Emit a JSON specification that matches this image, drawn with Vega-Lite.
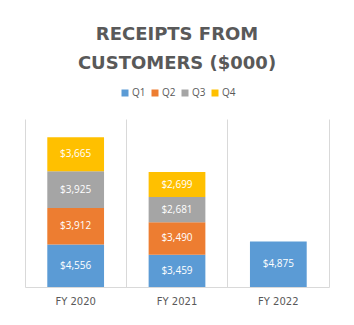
{
  "$schema": "https://vega.github.io/schema/vega-lite/v6.json",
  "width": 304,
  "height": 168,
  "autosize": {"type": "none"},
  "padding": {"left": 25, "top": 119, "right": 25, "bottom": 38},
  "background": "white",
  "title": {
    "text": ["RECEIPTS FROM", "CUSTOMERS ($000)"],
    "anchor": "middle",
    "font": "DejaVu Sans",
    "fontSize": 18,
    "fontWeight": "bold",
    "color": "#595959",
    "lineHeight": 29,
    "offset": 15
  },
  "data": {
    "values": [
      {"year": "FY 2020", "quarter": "Q1", "value": 4556},
      {"year": "FY 2020", "quarter": "Q2", "value": 3912},
      {"year": "FY 2020", "quarter": "Q3", "value": 3925},
      {"year": "FY 2020", "quarter": "Q4", "value": 3665},
      {"year": "FY 2021", "quarter": "Q1", "value": 3459},
      {"year": "FY 2021", "quarter": "Q2", "value": 3490},
      {"year": "FY 2021", "quarter": "Q3", "value": 2681},
      {"year": "FY 2021", "quarter": "Q4", "value": 2699},
      {"year": "FY 2022", "quarter": "Q1", "value": 4875}
    ]
  },
  "encoding": {
    "x": {
      "field": "year",
      "type": "nominal",
      "scale": {"paddingInner": 0, "paddingOuter": 0},
      "axis": {
        "title": null,
        "labelAngle": 0,
        "labelFont": "DejaVu Sans",
        "labelFontSize": 10,
        "labelColor": "#595959",
        "labelPadding": 9,
        "ticks": false,
        "domainColor": "#d9d9d9",
        "grid": true,
        "gridColor": "#d9d9d9",
        "bandPosition": 0
      }
    },
    "y": {
      "field": "value",
      "type": "quantitative",
      "stack": "zero",
      "scale": {"domain": [0, 18000], "nice": false},
      "axis": {
        "orient": "right",
        "title": null,
        "labels": false,
        "ticks": false,
        "grid": false,
        "domain": true,
        "domainColor": "#d9d9d9"
      }
    },
    "order": {"field": "quarter", "type": "nominal", "sort": "ascending"}
  },
  "layer": [
    {
      "mark": {"type": "bar", "width": {"band": 0.56}},
      "encoding": {
        "color": {
          "field": "quarter",
          "type": "nominal",
          "scale": {
            "domain": ["Q1", "Q2", "Q3", "Q4"],
            "range": ["#5B9BD5", "#ED7D31", "#A5A5A5", "#FFC000"]
          },
          "legend": {
            "title": null,
            "orient": "none",
            "direction": "horizontal",
            "legendX": 95,
            "legendY": -31,
            "symbolType": "square",
            "symbolSize": 49,
            "symbolStrokeWidth": 0,
            "labelFont": "Open Sans",
            "labelFontSize": 10,
            "labelColor": "#595959",
            "labelOffset": 2,
            "columnPadding": 4
          }
        }
      }
    },
    {
      "mark": {"type": "text", "color": "white", "font": "Open Sans", "fontSize": 10},
      "encoding": {
        "y": {"field": "value", "type": "quantitative", "stack": "zero", "bandPosition": 0.5},
        "detail": {"field": "quarter", "type": "nominal"},
        "text": {"field": "value", "type": "quantitative", "format": "$,d"}
      }
    }
  ],
  "config": {"view": {"stroke": null}}
}
